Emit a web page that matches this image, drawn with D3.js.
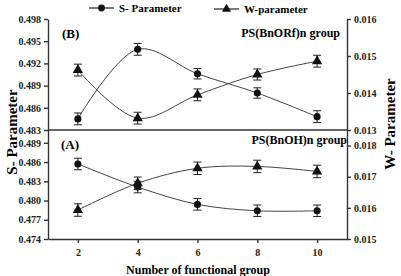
<!DOCTYPE html>
<meta charset="utf-8">
<style>
body { margin: 0; background: #fff; }
.axis path, .axis line { stroke: #333; stroke-width: 1.4px; }
.curve { fill: none; stroke: #444; stroke-width: 1px; }
.err { stroke: #222; stroke-width: 1px; }
</style>
<svg width="401" height="276"></svg>
<script src="https://cdn.jsdelivr.net/npm/d3@7"></script>
<script>

var groups = [2, 4, 6, 8, 10];

// panel B : PS(BnORf)n group
var sB = [0.4845, 0.4939, 0.4906, 0.4880, 0.4848];
var sBerr = [0.0008, 0.0008, 0.0007, 0.0007, 0.0008];
var wB = [0.01462, 0.01332, 0.01395, 0.01450, 0.01486];
var wBerr = [0.00016, 0.00016, 0.00016, 0.00015, 0.00016];

// panel A : PS(BnOH)n group
var sA = [0.4857, 0.4821, 0.4794, 0.4784, 0.4784];
var sAerr = [0.0009, 0.0009, 0.0009, 0.0009, 0.0009];
var wA = [0.01593, 0.01679, 0.01727, 0.01733, 0.01717];
var wAerr = [0.0002, 0.0002, 0.0002, 0.0002, 0.0002];

var sTicksB = [0.483, 0.486, 0.489, 0.492, 0.495, 0.498];
var wTicksB = [0.013, 0.014, 0.015, 0.016];
var sTicksA = [0.474, 0.477, 0.480, 0.483, 0.486, 0.489];
var wTicksA = [0.015, 0.016, 0.017, 0.018];

var FONT = "'Liberation Serif', 'DejaVu Serif', serif";

var svg = d3.select("svg")
    .style("font-family", FONT)
    .style("font-weight", "bold");

var pLeft = 48, pRight = 347, pTop = 19, pMid = 130, pBottom = 239;

var x = d3.scaleLinear().domain([1, 11]).range([pLeft, pRight]);

var ySB = d3.scaleLinear().domain([0.483, 0.498]).range([pMid, pTop]),
    yWB = d3.scaleLinear().domain([0.013, 0.016]).range([pMid, pTop]),
    ySA = d3.scaleLinear().domain([0.474, 0.491]).range([pBottom, pMid]),
    yWA = d3.scaleLinear().domain([0.015, 0.0185]).range([pBottom, pMid]);

var fmt = d3.format(".3f");

function styleAxis(g) {
  g.attr("font-family", FONT).attr("font-weight", "bold").attr("font-size", 10);
  g.selectAll("text").attr("fill", "#222");
}

function yAxes(ys, yw, st, wt) {
  svg.append("g")
      .attr("class", "axis")
      .attr("transform", "translate(" + pLeft + ",0)")
      .call(d3.axisLeft(ys).tickValues(st).tickFormat(fmt).tickSize(4).tickSizeOuter(0))
      .call(styleAxis);
  svg.append("g")
      .attr("class", "axis")
      .attr("transform", "translate(" + pRight + ",0)")
      .call(d3.axisRight(yw).tickValues(wt).tickFormat(fmt).tickSize(4).tickSizeOuter(0))
      .call(styleAxis);
}
yAxes(ySB, yWB, sTicksB, wTicksB);
yAxes(ySA, yWA, sTicksA, wTicksA);

// divider between the panels
svg.append("line")
    .attr("x1", pLeft).attr("x2", pRight)
    .attr("y1", pMid).attr("y2", pMid)
    .style("stroke", "#333").style("stroke-width", 1.4);

svg.append("g")
    .attr("class", "axis")
    .attr("transform", "translate(0," + pBottom + ")")
    .call(d3.axisBottom(x).tickValues(groups).tickSize(4).tickSizeOuter(0).tickPadding(6))
    .call(styleAxis);

function series(vals, errs, y, marker) {
  var pts = groups.map(function(g, i) { return {x: g, v: vals[i], e: errs[i]}; });
  var line = d3.line()
      .curve(d3.curveCatmullRom.alpha(0.5))
      .x(function(d) { return x(d.x); })
      .y(function(d) { return y(d.v); });
  svg.append("path").attr("class", "curve").attr("d", line(pts));

  var g = svg.append("g");
  var eb = g.selectAll(".eb").data(pts).enter().append("g");
  eb.append("line").attr("class", "err")
      .attr("x1", function(d) { return x(d.x); }).attr("x2", function(d) { return x(d.x); })
      .attr("y1", function(d) { return y(d.v - d.e); }).attr("y2", function(d) { return y(d.v + d.e); });
  [-1, 1].forEach(function(s) {
    eb.append("line").attr("class", "err")
        .attr("x1", function(d) { return x(d.x) - 4; }).attr("x2", function(d) { return x(d.x) + 4; })
        .attr("y1", function(d) { return y(d.v + s * d.e); }).attr("y2", function(d) { return y(d.v + s * d.e); });
  });
  g.selectAll(".m").data(pts).enter().append("path")
      .attr("d", d3.symbol().type(marker).size(marker === d3.symbolCircle ? 40 : 46))
      .attr("transform", function(d) { return "translate(" + x(d.x) + "," + y(d.v) + ")"; })
      .style("fill", "#111");
}
series(sB, sBerr, ySB, d3.symbolCircle);
series(wB, wBerr, yWB, d3.symbolTriangle);
series(sA, sAerr, ySA, d3.symbolCircle);
series(wA, wAerr, yWA, d3.symbolTriangle);

// panel labels
svg.append("text").attr("x", 62).attr("y", 38).style("font-size", "13px").text("(B)");
svg.append("text").attr("x", 340).attr("y", 37).attr("text-anchor", "end").style("font-size", "12px").text("PS(BnORf)n group");
svg.append("text").attr("x", 61).attr("y", 149).style("font-size", "13px").text("(A)");
svg.append("text").attr("x", 347).attr("y", 144).attr("text-anchor", "end").style("font-size", "12px").text("PS(BnOH)n group");

// axis titles
svg.append("text")
    .attr("transform", "translate(17,132) rotate(-90)")
    .attr("text-anchor", "middle").style("font-size", "15px").text("S- Parameter");
svg.append("text")
    .attr("transform", "translate(395,124) rotate(-90)")
    .attr("text-anchor", "middle").style("font-size", "15px").text("W- Parameter");
svg.append("text")
    .attr("x", 198).attr("y", 274)
    .attr("text-anchor", "middle").style("font-size", "12px").text("Number of functional group");

// legend
var legend = [
  {label: "S- Parameter", x: 89, y: 8, marker: d3.symbolCircle},
  {label: "W-parameter", x: 214, y: 9, marker: d3.symbolTriangle}
];
legend.forEach(function(d) {
  svg.append("line").attr("x1", d.x).attr("x2", d.x + 25).attr("y1", d.y).attr("y2", d.y)
      .style("stroke", "#222").style("stroke-width", 1.2);
  svg.append("path").attr("d", d3.symbol().type(d.marker).size(36))
      .attr("transform", "translate(" + (d.x + 12.5) + "," + d.y + ")").style("fill", "#111");
  svg.append("text").attr("x", d.x + 30).attr("y", d.y + 4).style("font-size", "11px").text(d.label);
});

</script>
